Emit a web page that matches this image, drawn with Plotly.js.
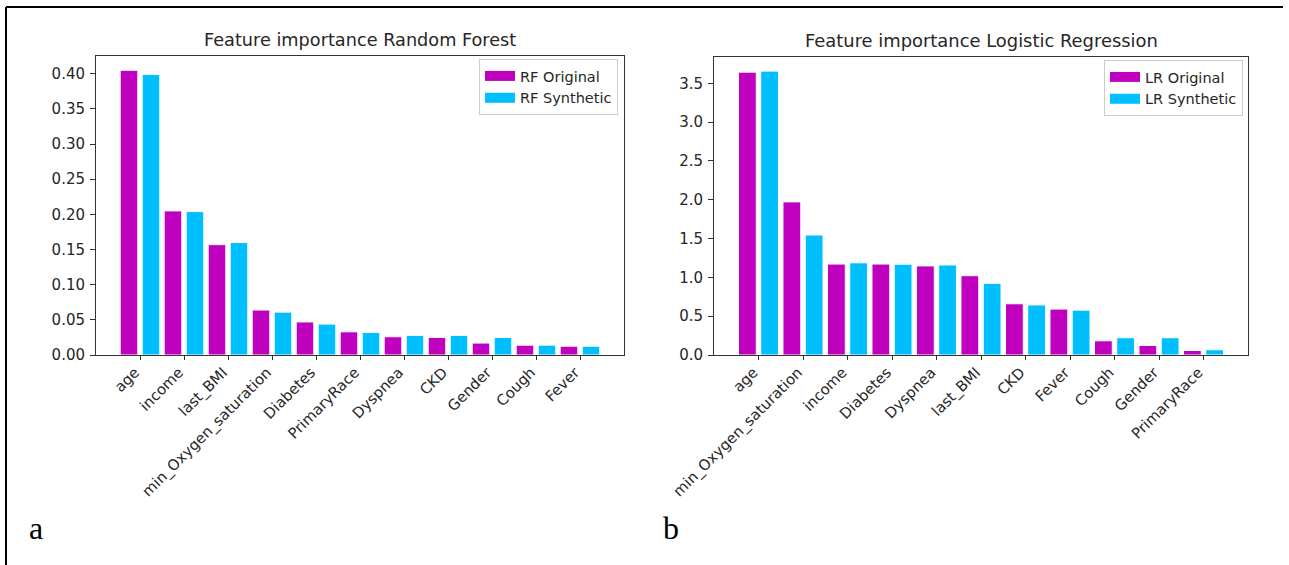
<!DOCTYPE html>
<html>
<head>
<meta charset="utf-8">
<script src="https://cdn.plot.ly/plotly-3.0.1.min.js"></script>
<style>
html,body{margin:0;padding:0;background:#fff;}
#chart{width:1289px;height:565px;}
</style>
</head>
<body>
<div id="chart"></div>
<script>
// Random Forest feature importance
const rfFeatures = ["age","income","last_BMI","min_Oxygen_saturation","Diabetes","PrimaryRace","Dyspnea","CKD","Gender","Cough","Fever"];
const rfOriginal = [0.405,0.205,0.157,0.064,0.047,0.033,0.026,0.025,0.017,0.014,0.0125];
const rfSynthetic = [0.399,0.204,0.160,0.061,0.044,0.032,0.028,0.028,0.025,0.014,0.0125];

// Logistic Regression feature importance
const lrFeatures = ["age","min_Oxygen_saturation","income","Diabetes","Dyspnea","last_BMI","CKD","Fever","Cough","Gender","PrimaryRace"];
const lrOriginal = [3.645,1.973,1.172,1.172,1.148,1.022,0.660,0.592,0.183,0.122,0.058];
const lrSynthetic = [3.658,1.546,1.188,1.170,1.160,0.924,0.645,0.578,0.222,0.222,0.068];

const seriesNames = {rf: ["RF Original","RF Synthetic"], lr: ["LR Original","LR Synthetic"]};

const MAG = "#bf00bf", CYAN = "#00bfff";
const FONT = "DejaVu Sans, sans-serif";
const TXT = "#262626";

function barTrace(x, y, name, color, xa, ya) {
  return {
    type: "bar", x: x, y: y, name: name, xaxis: xa, yaxis: ya, showlegend: false,
    marker: {color: color, line: {color: "#ffffff", width: 1}},
    hoverinfo: "x+y"
  };
}
// legend-only entries (wide patch symbol like matplotlib)
function legendEntry(name, color, xa, ya, leg) {
  return {
    type: "scatter", mode: "lines", x: [null], y: [null], name: name,
    xaxis: xa, yaxis: ya, legend: leg, showlegend: true,
    line: {color: color, width: 10}, hoverinfo: "skip"
  };
}

const data = [
  barTrace(rfFeatures, rfOriginal, seriesNames.rf[0], MAG, "x", "y"),
  barTrace(rfFeatures, rfSynthetic, seriesNames.rf[1], CYAN, "x", "y"),
  barTrace(lrFeatures, lrOriginal, seriesNames.lr[0], MAG, "x2", "y2"),
  barTrace(lrFeatures, lrSynthetic, seriesNames.lr[1], CYAN, "x2", "y2"),
  legendEntry(seriesNames.rf[0], MAG, "x", "y", "legend"),
  legendEntry(seriesNames.rf[1], CYAN, "x", "y", "legend"),
  legendEntry(seriesNames.lr[0], MAG, "x2", "y2", "legend2"),
  legendEntry(seriesNames.lr[1], CYAN, "x2", "y2", "legend2")
];

const W = 1289, H = 565;
const px = v => v / W, py = v => (H - v) / H;

const xCommon = {
  type: "category", showline: true, mirror: true, linecolor: "#333", linewidth: 1,
  ticks: "outside", ticklen: 4, tickcolor: "#333", tickangle: -45,
  ticklabelstandoff: -2, ticklabelshift: -5,
  tickfont: {family: FONT, size: 14.8, color: TXT}, showgrid: false, zeroline: false,
  range: [-1, 11], fixedrange: true
};
const yCommon = {
  showline: true, mirror: true, linecolor: "#333", linewidth: 1,
  ticks: "outside", ticklen: 5, tickcolor: "#333", ticklabelstandoff: 2,
  tickfont: {family: FONT, size: 15, color: TXT}, showgrid: false, zeroline: false,
  fixedrange: true
};

const legCommon = {
  bgcolor: "rgba(255,255,255,0.8)", bordercolor: "#cccccc", borderwidth: 1,
  font: {family: FONT, size: 14.5, color: TXT}, xanchor: "right", yanchor: "top",
  tracegroupgap: 0, itemwidth: 30
};

const layout = {
  width: W, height: H,
  margin: {l: 0, r: 0, t: 0, b: 0},
  paper_bgcolor: "#fff", plot_bgcolor: "#fff",
  barmode: "group", bargap: 0, bargroupgap: 0.2,
  showlegend: true,
  xaxis: Object.assign({}, xCommon, {domain: [px(96), px(624)], anchor: "y"}),
  yaxis: Object.assign({}, yCommon, {domain: [py(355), py(56)], anchor: "x", range: [0, 0.4253], dtick: 0.05, tickformat: ".2f"}),
  xaxis2: Object.assign({}, xCommon, {domain: [px(714), px(1248)], anchor: "y2"}),
  yaxis2: Object.assign({}, yCommon, {domain: [py(355), py(57)], anchor: "x2", range: [0, 3.84], dtick: 0.5, tickformat: ".1f"}),
  legend: Object.assign({}, legCommon, {x: px(618), y: py(59)}),
  legend2: Object.assign({}, legCommon, {x: px(1243), y: py(60)}),
  annotations: [
    {text: "Feature importance Random Forest", xref: "paper", yref: "paper", x: px(360), y: py(40), showarrow: false, font: {family: FONT, size: 17.7, color: TXT}, xanchor: "center", yanchor: "middle"},
    {text: "Feature importance Logistic Regression", xref: "paper", yref: "paper", x: px(981), y: py(41), showarrow: false, font: {family: FONT, size: 17.9, color: TXT}, xanchor: "center", yanchor: "middle"},
    {text: "a", xref: "paper", yref: "paper", x: px(27), y: py(528), showarrow: false, font: {family: "Liberation Serif, serif", size: 32, color: "#000"}, xanchor: "left", yanchor: "middle"},
    {text: "b", xref: "paper", yref: "paper", x: px(661), y: py(528), showarrow: false, font: {family: "Liberation Serif, serif", size: 32, color: "#000"}, xanchor: "left", yanchor: "middle"}
  ],
  shapes: [
    {type: "line", xref: "paper", yref: "paper", x0: px(6), x1: px(6), y0: py(7), y1: 0, line: {color: "#000", width: 2}},
    {type: "line", xref: "paper", yref: "paper", x0: px(6), x1: px(1283), y0: py(7), y1: py(7), line: {color: "#000", width: 2}}
  ]
};

Plotly.newPlot("chart", data, layout, {displayModeBar: false, staticPlot: true});
</script>
</body>
</html>
